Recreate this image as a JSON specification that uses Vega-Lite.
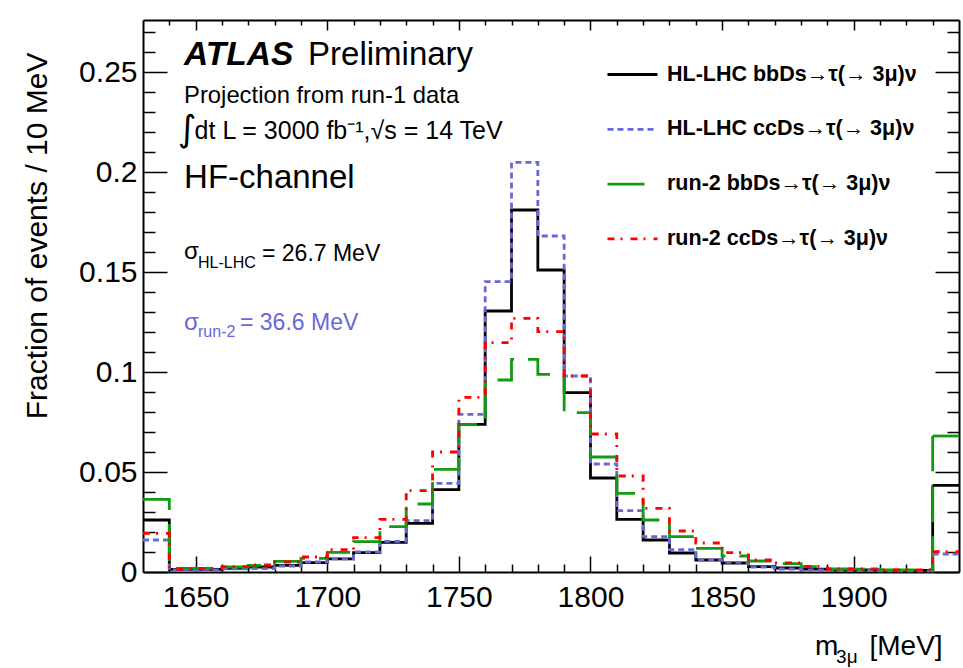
{
  "$schema": "https://vega.github.io/schema/vega-lite/v6.json",
  "width": 816,
  "height": 552,
  "autosize": {"type": "none"},
  "padding": {"left": 143, "top": 20, "right": 4, "bottom": 96},
  "background": "white",
  "config": {
    "font": "Liberation Sans",
    "view": {"stroke": null},
    "axis": {
      "domainColor": "black", "domainWidth": 2, "tickColor": "black", "tickWidth": 1.5,
      "labelColor": "black", "labelFont": "Liberation Sans", "labelFontSize": 30,
      "grid": false, "titleFont": "Liberation Sans", "titleFontWeight": "normal", "titleColor": "black"
    },
    "legend": {
      "symbolType": "stroke", "symbolSize": 2500, "symbolStrokeWidth": 2.8,
      "labelFont": "Liberation Sans", "labelFontSize": 21.5, "labelFontWeight": "bold", "labelColor": "black",
      "labelOffset": 8, "rowPadding": 17.8, "padding": 0, "labelLimit": 500
    }
  },
  "datasets": {
    "h": [
      {"lo": 1630, "hi": 1640, "a": 0.026, "b": 0.016, "c": 0.0363, "d": 0.0193},
      {"lo": 1640, "hi": 1650, "a": 0.0013, "b": 0.001, "c": 0.0018, "d": 0.0014},
      {"lo": 1650, "hi": 1660, "a": 0.0013, "b": 0.001, "c": 0.0018, "d": 0.0018},
      {"lo": 1660, "hi": 1670, "a": 0.0018, "b": 0.0016, "c": 0.0025, "d": 0.0027},
      {"lo": 1670, "hi": 1680, "a": 0.0025, "b": 0.0017, "c": 0.0033, "d": 0.0035},
      {"lo": 1680, "hi": 1690, "a": 0.0033, "b": 0.003, "c": 0.0053, "d": 0.005},
      {"lo": 1690, "hi": 1700, "a": 0.0047, "b": 0.005, "c": 0.0068, "d": 0.0075},
      {"lo": 1700, "hi": 1710, "a": 0.0066, "b": 0.0066, "c": 0.0098, "d": 0.0112},
      {"lo": 1710, "hi": 1720, "a": 0.0097, "b": 0.01, "c": 0.0152, "d": 0.0172},
      {"lo": 1720, "hi": 1730, "a": 0.0148, "b": 0.0153, "c": 0.0227, "d": 0.0263},
      {"lo": 1730, "hi": 1740, "a": 0.0243, "b": 0.0257, "c": 0.034, "d": 0.0407},
      {"lo": 1740, "hi": 1750, "a": 0.0412, "b": 0.0443, "c": 0.0513, "d": 0.06},
      {"lo": 1750, "hi": 1760, "a": 0.0738, "b": 0.0788, "c": 0.0738, "d": 0.0873},
      {"lo": 1760, "hi": 1770, "a": 0.1305, "b": 0.1452, "c": 0.096, "d": 0.1147},
      {"lo": 1770, "hi": 1780, "a": 0.181, "b": 0.2048, "c": 0.1063, "d": 0.1268},
      {"lo": 1780, "hi": 1790, "a": 0.151, "b": 0.168, "c": 0.0988, "d": 0.1202},
      {"lo": 1790, "hi": 1800, "a": 0.0897, "b": 0.098, "c": 0.0797, "d": 0.098},
      {"lo": 1800, "hi": 1810, "a": 0.047, "b": 0.054, "c": 0.0575, "d": 0.069},
      {"lo": 1810, "hi": 1820, "a": 0.0263, "b": 0.0307, "c": 0.0393, "d": 0.048},
      {"lo": 1820, "hi": 1830, "a": 0.016, "b": 0.0177, "c": 0.026, "d": 0.0318},
      {"lo": 1830, "hi": 1840, "a": 0.0095, "b": 0.0112, "c": 0.0177, "d": 0.0205},
      {"lo": 1840, "hi": 1850, "a": 0.006, "b": 0.0062, "c": 0.0118, "d": 0.0145},
      {"lo": 1850, "hi": 1860, "a": 0.0045, "b": 0.0048, "c": 0.008, "d": 0.0097},
      {"lo": 1860, "hi": 1870, "a": 0.0027, "b": 0.0024, "c": 0.0055, "d": 0.006},
      {"lo": 1870, "hi": 1880, "a": 0.002, "b": 0.0015, "c": 0.0042, "d": 0.0046},
      {"lo": 1880, "hi": 1890, "a": 0.0014, "b": 0.001, "c": 0.0027, "d": 0.0028},
      {"lo": 1890, "hi": 1900, "a": 0.001, "b": 0.0007, "c": 0.0015, "d": 0.0015},
      {"lo": 1900, "hi": 1910, "a": 0.001, "b": 0.0007, "c": 0.0014, "d": 0.0015},
      {"lo": 1910, "hi": 1920, "a": 0.0007, "b": 0.0006, "c": 0.001, "d": 0.001},
      {"lo": 1920, "hi": 1930, "a": 0.0008, "b": 0.0006, "c": 0.0011, "d": 0.001},
      {"lo": 1930, "hi": 1940, "a": 0.0433, "b": 0.009, "c": 0.068, "d": 0.0102}
    ]
  },
  "layer": [
    {
      "data": {"name": "h"},
      "transform": [{"fold": ["a", "b", "c", "d"], "as": ["s", "v"]}],
      "mark": {"type": "line", "interpolate": "step-after", "strokeWidth": 2.8, "strokeCap": "butt"},
      "encoding": {
        "x": {
          "field": "lo", "type": "quantitative",
          "scale": {"domain": [1630, 1940], "nice": false, "zero": false},
          "axis": {
            "orient": "bottom", "title": null, "format": "d",
            "values": [1640,1650,1660,1670,1680,1690,1700,1710,1720,1730,1740,1750,1760,1770,1780,1790,1800,1810,1820,1830,1840,1850,1860,1870,1880,1890,1900,1910,1920,1930],
            "labelExpr": "datum.value % 50 === 0 ? datum.label : ''",
            "tickSize": {"condition": {"test": "datum.value % 50 === 0", "value": -16}, "value": -8},
            "labelPadding": 26, "labelFlush": false, "labelOverlap": false
          }
        },
        "y": {
          "field": "v", "type": "quantitative",
          "scale": {"domain": [0, 0.276], "nice": false, "zero": false},
          "axis": {
            "orient": "left",
            "values": [0,0.01,0.02,0.03,0.04,0.05,0.06,0.07,0.08,0.09,0.1,0.11,0.12,0.13,0.14,0.15,0.16,0.17,0.18,0.19,0.2,0.21,0.22,0.23,0.24,0.25,0.26,0.27],
            "labelExpr": "round(datum.value*100) % 5 === 0 ? format(datum.value, '~g') : ''",
            "tickSize": {"condition": {"test": "round(datum.value*100) % 5 === 0", "value": -24}, "value": -12},
            "labelPadding": 30, "labelFlush": false, "labelOverlap": false,
            "title": "Fraction of events / 10 MeV", "titleFontSize": 30, "titleAngle": 270,
            "titleAlign": "right", "titleBaseline": "alphabetic", "titleX": -97, "titleY": 32
          }
        },
        "color": {
          "field": "s", "type": "nominal",
          "scale": {"domain": ["a", "b", "c", "d"], "range": ["#000000", "#6868d8", "#139a13", "#ff0000"]},
          "legend": {
            "title": null, "orient": "none", "legendX": 463, "legendY": 28,
            "labelExpr": "datum.label === 'a' ? 'HL-LHC bbDs→τ(→ 3μ)ν' : datum.label === 'b' ? 'HL-LHC ccDs→τ(→ 3μ)ν' : datum.label === 'c' ? 'run-2 bbDs→τ(→ 3μ)ν' : 'run-2 ccDs→τ(→ 3μ)ν'"
          }
        },
        "strokeDash": {
          "field": "s", "type": "nominal",
          "scale": {"domain": ["a", "b", "c", "d"], "range": [[1, 0], [6, 4], [37, 14], [7, 6, 2, 8]]},
          "legend": {
            "title": null, "orient": "none", "legendX": 463, "legendY": 28,
            "labelExpr": "datum.label === 'a' ? 'HL-LHC bbDs→τ(→ 3μ)ν' : datum.label === 'b' ? 'HL-LHC ccDs→τ(→ 3μ)ν' : datum.label === 'c' ? 'run-2 bbDs→τ(→ 3μ)ν' : 'run-2 ccDs→τ(→ 3μ)ν'"
          }
        }
      }
    },
    {
      "data": {"name": "h"},
      "transform": [{"filter": "datum.lo == 1930"}, {"fold": ["a", "b", "c", "d"], "as": ["s", "v"]}],
      "mark": {"type": "rule", "strokeWidth": 2.8, "strokeCap": "butt"},
      "encoding": {
        "x": {
          "field": "lo", "type": "quantitative",
          "axis": {
            "orient": "top", "title": null, "labels": false,
            "values": [1640,1650,1660,1670,1680,1690,1700,1710,1720,1730,1740,1750,1760,1770,1780,1790,1800,1810,1820,1830,1840,1850,1860,1870,1880,1890,1900,1910,1920,1930],
            "tickSize": {"condition": {"test": "datum.value % 50 === 0", "value": -10}, "value": -5}
          }
        },
        "x2": {"field": "hi"},
        "y": {
          "field": "v", "type": "quantitative",
          "axis": {
            "orient": "right", "title": null, "labels": false,
            "values": [0,0.01,0.02,0.03,0.04,0.05,0.06,0.07,0.08,0.09,0.1,0.11,0.12,0.13,0.14,0.15,0.16,0.17,0.18,0.19,0.2,0.21,0.22,0.23,0.24,0.25,0.26,0.27],
            "tickSize": {"condition": {"test": "round(datum.value*100) % 5 === 0", "value": -24}, "value": -12}
          }
        },
        "color": {"field": "s", "type": "nominal"},
        "strokeDash": {"field": "s", "type": "nominal"}
      }
    },
    {
      "data": {"values": [{}]},
      "mark": {"type": "text", "text": "ATLAS", "align": "left", "baseline": "alphabetic", "fontSize": 33.5, "fontWeight": "bold", "fontStyle": "italic", "font": "Liberation Sans", "color": "black"},
      "encoding": {"x": {"datum": 1645.6, "type": "quantitative", "axis": null}, "y": {"datum": 0.2535, "type": "quantitative", "axis": null}}
    },
    {
      "data": {"values": [{}]},
      "mark": {"type": "text", "text": "Preliminary", "align": "left", "baseline": "alphabetic", "fontSize": 33, "font": "Liberation Sans", "color": "black"},
      "encoding": {"x": {"datum": 1692.7, "type": "quantitative", "axis": null}, "y": {"datum": 0.2535, "type": "quantitative", "axis": null}}
    },
    {
      "data": {"values": [{}]},
      "mark": {"type": "text", "text": "Projection from run-1 data", "align": "left", "baseline": "alphabetic", "fontSize": 23.8, "font": "Liberation Sans", "color": "black"},
      "encoding": {"x": {"datum": 1645.6, "type": "quantitative", "axis": null}, "y": {"datum": 0.2347, "type": "quantitative", "axis": null}}
    },
    {
      "data": {"values": [{}]},
      "mark": {"type": "text", "text": "∫", "align": "left", "baseline": "alphabetic", "fontSize": 36, "font": "DejaVu Sans", "color": "black"},
      "encoding": {"x": {"datum": 1643.2, "type": "quantitative", "axis": null}, "y": {"datum": 0.2155, "type": "quantitative", "axis": null}}
    },
    {
      "data": {"values": [{}]},
      "mark": {"type": "text", "text": "dt L = 3000 fb⁻¹,√s = 14 TeV", "align": "left", "baseline": "alphabetic", "fontSize": 25, "font": "Liberation Sans", "color": "black"},
      "encoding": {"x": {"datum": 1649.6, "type": "quantitative", "axis": null}, "y": {"datum": 0.2165, "type": "quantitative", "axis": null}}
    },
    {
      "data": {"values": [{}]},
      "mark": {"type": "text", "text": "HF-channel", "align": "left", "baseline": "alphabetic", "fontSize": 33, "font": "Liberation Sans", "color": "black"},
      "encoding": {"x": {"datum": 1645.6, "type": "quantitative", "axis": null}, "y": {"datum": 0.192, "type": "quantitative", "axis": null}}
    },
    {
      "data": {"values": [{}]},
      "mark": {"type": "text", "text": "σ", "align": "left", "baseline": "alphabetic", "fontSize": 24, "font": "Liberation Sans", "color": "black"},
      "encoding": {"x": {"datum": 1645.6, "type": "quantitative", "axis": null}, "y": {"datum": 0.1565, "type": "quantitative", "axis": null}}
    },
    {
      "data": {"values": [{}]},
      "mark": {"type": "text", "text": "HL-LHC", "align": "left", "baseline": "alphabetic", "fontSize": 16, "font": "Liberation Sans", "color": "black"},
      "encoding": {"x": {"datum": 1650.9, "type": "quantitative", "axis": null}, "y": {"datum": 0.152, "type": "quantitative", "axis": null}}
    },
    {
      "data": {"values": [{}]},
      "mark": {"type": "text", "text": "= 26.7 MeV", "align": "left", "baseline": "alphabetic", "fontSize": 23, "font": "Liberation Sans", "color": "black"},
      "encoding": {"x": {"datum": 1675.2, "type": "quantitative", "axis": null}, "y": {"datum": 0.1555, "type": "quantitative", "axis": null}}
    },
    {
      "data": {"values": [{}]},
      "mark": {"type": "text", "text": "σ", "align": "left", "baseline": "alphabetic", "fontSize": 24, "font": "Liberation Sans", "color": "#6868d8"},
      "encoding": {"x": {"datum": 1645.6, "type": "quantitative", "axis": null}, "y": {"datum": 0.121, "type": "quantitative", "axis": null}}
    },
    {
      "data": {"values": [{}]},
      "mark": {"type": "text", "text": "run-2", "align": "left", "baseline": "alphabetic", "fontSize": 16, "font": "Liberation Sans", "color": "#6868d8"},
      "encoding": {"x": {"datum": 1650.9, "type": "quantitative", "axis": null}, "y": {"datum": 0.1177, "type": "quantitative", "axis": null}}
    },
    {
      "data": {"values": [{}]},
      "mark": {"type": "text", "text": "= 36.6 MeV", "align": "left", "baseline": "alphabetic", "fontSize": 23, "font": "Liberation Sans", "color": "#6868d8"},
      "encoding": {"x": {"datum": 1666.85, "type": "quantitative", "axis": null}, "y": {"datum": 0.121, "type": "quantitative", "axis": null}}
    },
    {
      "data": {"values": [{}]},
      "mark": {"type": "text", "text": "m", "align": "left", "baseline": "alphabetic", "fontSize": 28, "font": "Liberation Sans", "color": "black"},
      "encoding": {"x": {"datum": 1885.3, "type": "quantitative", "axis": null}, "y": {"datum": -0.0415, "type": "quantitative", "axis": null}}
    },
    {
      "data": {"values": [{}]},
      "mark": {"type": "text", "text": "3μ", "align": "left", "baseline": "alphabetic", "fontSize": 19, "font": "Liberation Sans", "color": "black"},
      "encoding": {"x": {"datum": 1893.3, "type": "quantitative", "axis": null}, "y": {"datum": -0.0455, "type": "quantitative", "axis": null}}
    },
    {
      "data": {"values": [{}]},
      "mark": {"type": "text", "text": "[MeV]", "align": "left", "baseline": "alphabetic", "fontSize": 28, "font": "Liberation Sans", "color": "black"},
      "encoding": {"x": {"datum": 1906.0, "type": "quantitative", "axis": null}, "y": {"datum": -0.0415, "type": "quantitative", "axis": null}}
    }
  ],
  "resolve": {"axis": {"x": "independent", "y": "independent"}}
}
